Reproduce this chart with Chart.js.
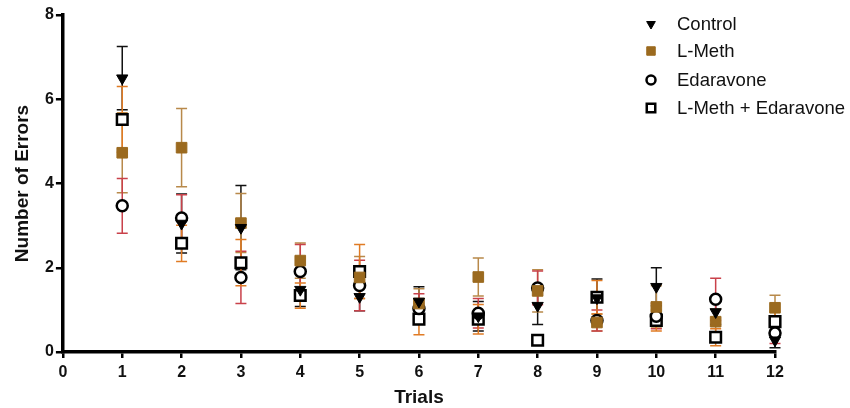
<!DOCTYPE html>
<html>
<head>
<meta charset="utf-8">
<script src="https://cdn.jsdelivr.net/npm/chart.js@4"></script>
<style>
  body { margin: 0; background: #fff; }
  #wrap { position: relative; width: 850px; height: 408px; }
</style>
</head>
<body>
<div id="wrap"><canvas id="myChart" width="850" height="408"></canvas></div>
<script>
const trials = [1, 2, 3, 4, 5, 6, 7, 8, 9, 10, 11, 12];

// means
const control = [6.5, 3.05, 2.95, 1.48, 1.31, 1.2, 0.85, 1.1, 1.28, 1.55, 0.95, 0.28];
const lMeth = [4.73, 4.85, 3.06, 2.17, 1.77, 1.15, 1.78, 1.45, 0.7, 1.07, 0.72, 1.05];
const edaravone = [3.47, 3.18, 1.77, 1.91, 1.58, 1.03, 0.92, 1.52, 0.75, 0.85, 1.25, 0.45];
const lMethEda = [5.52, 2.58, 2.12, 1.34, 1.91, 0.78, 0.78, 0.28, 1.3, 0.75, 0.35, 0.72];

// error (+/-) for each point
const controlErr = [0.75, 0.7, 1.0, 0.4, 0.33, 0.35, 0.35, 0.45, 0.45, 0.45, 0.3, 0.18];
const lMethErr = [0.95, 0.93, 0.7, 0.42, 0.5, 0.35, 0.45, 0.5, 0.2, 0.5, 0.3, 0.3];
const edaravoneErr = [0.65, 0.55, 0.62, 0.64, 0.6, 0.35, 0.35, 0.4, 0.25, 0.3, 0.5, 0.25];
const lMethEdaErr = [0.78, 0.43, 0.55, 0.3, 0.64, 0.37, 0.35, 0, 0.4, 0.25, 0.2, 0.25];

const seriesNames = ['Control', 'L-Meth', 'Edaravone', 'L-Meth + Edaravone'];
const yTicks = [0, 2, 4, 6, 8];

function pts(arr) {
  return arr.map((v, i) => ({ x: trials[i], y: v }));
}

const errorBars = {
  id: 'errorBars',
  beforeDatasetsDraw(chart) {
    const ctx = chart.ctx;
    const xs = chart.scales.x, ys = chart.scales.y;
    chart.data.datasets.forEach(ds => {
      ctx.save();
      ctx.strokeStyle = ds.errColor;
      ctx.lineWidth = 1.5;
      ds.data.forEach((p, j) => {
        const e = ds.err[j];
        if (!e) return;
        const x = xs.getPixelForValue(p.x);
        const top = ys.getPixelForValue(p.y + e);
        const bot = ys.getPixelForValue(Math.max(0, p.y - e));
        ctx.beginPath();
        ctx.moveTo(x, top); ctx.lineTo(x, bot);
        ctx.moveTo(x - 5.5, top); ctx.lineTo(x + 5.5, top);
        ctx.moveTo(x - 5.5, bot); ctx.lineTo(x + 5.5, bot);
        ctx.stroke();
      });
      ctx.restore();
    });
  }
};

// legend drawn at the top right, over the plot like in the original
const sideLegend = {
  id: 'sideLegend',
  afterDraw(chart) {
    const ctx = chart.ctx;
    const rows = [24, 51, 80, 108];
    chart.data.datasets.forEach((ds, i) => {
      ctx.save();
      ctx.fillStyle = ds.backgroundColor;
      ctx.strokeStyle = ds.borderColor;
      ctx.lineWidth = ds.borderWidth;
      Chart.helpers.drawPoint(ctx, {
        pointStyle: ds.pointStyle,
        rotation: ds.rotation || 0,
        radius: ds.legendRadius,
        borderWidth: ds.borderWidth
      }, 651, rows[i]);
      ctx.fillStyle = '#111';
      ctx.font = '18.5px "Liberation Sans", Arial, sans-serif';
      ctx.textBaseline = 'middle';
      ctx.fillText(ds.label, 677, rows[i] + 1);
      ctx.restore();
    });
  }
};

const data = {
  datasets: [
    {
      label: seriesNames[0], data: pts(control), err: controlErr, errColor: '#111111',
      pointStyle: 'triangle', rotation: 180, pointRadius: 6.5, legendRadius: 5, clip: false,
      backgroundColor: '#000', borderColor: '#000', borderWidth: 1
    },
    {
      label: seriesNames[1], data: pts(lMeth), err: lMethErr, errColor: '#b8894a',
      pointStyle: 'rect', pointRadius: 7.5, legendRadius: 6, clip: false,
      backgroundColor: '#9b6a1f', borderColor: '#9b6a1f', borderWidth: 1
    },
    {
      label: seriesNames[2], data: pts(edaravone), err: edaravoneErr, errColor: '#c9414a',
      pointStyle: 'circle', pointRadius: 5.5, legendRadius: 4.5, clip: false,
      backgroundColor: '#fff', borderColor: '#000', borderWidth: 2.5
    },
    {
      label: seriesNames[3], data: pts(lMethEda), err: lMethEdaErr, errColor: '#e07b24',
      pointStyle: 'rect', pointRadius: 7.5, legendRadius: 6, clip: false,
      backgroundColor: '#fff', borderColor: '#000', borderWidth: 2.5
    }
  ]
};

const tickFont = { family: '"Liberation Sans", Arial, sans-serif', size: 16, weight: 'bold', lineHeight: 1 };
const titleFont = { family: tickFont.family, size: 19, weight: 'bold', lineHeight: 1 };

new Chart(document.getElementById('myChart'), {
  type: 'scatter',
  data: data,
  plugins: [errorBars, sideLegend],
  options: {
    responsive: false,
    animation: false,
    layout: { padding: { top: 15, right: 75, left: 13, bottom: 1 } },
    plugins: { legend: { display: false }, tooltip: { enabled: false } },
    elements: { point: { hoverRadius: 0 } },
    scales: {
      x: {
        type: 'linear', min: 0, max: 12,
        ticks: { stepSize: 1, color: '#111', font: tickFont, padding: 7 },
        grid: { drawOnChartArea: false, drawTicks: true, tickLength: 6, color: '#000', lineWidth: 2.5 },
        border: { color: '#000', width: 3.5 },
        title: { display: true, text: 'Trials', color: '#111', font: titleFont, padding: { top: 0, bottom: 0 } }
      },
      y: {
        type: 'linear', min: 0, max: 8,
        afterBuildTicks: axis => { axis.ticks = yTicks.map(v => ({ value: v })); },
        ticks: { color: '#111', font: tickFont, padding: 2 },
        grid: { drawOnChartArea: false, drawTicks: true, tickLength: 7, color: '#000', lineWidth: 2.5 },
        border: { color: '#000', width: 3.5 },
        title: { display: true, text: 'Number of Errors', color: '#111', font: titleFont, padding: { top: 0, bottom: 11 } }
      }
    }
  }
});
</script>
</body>
</html>
